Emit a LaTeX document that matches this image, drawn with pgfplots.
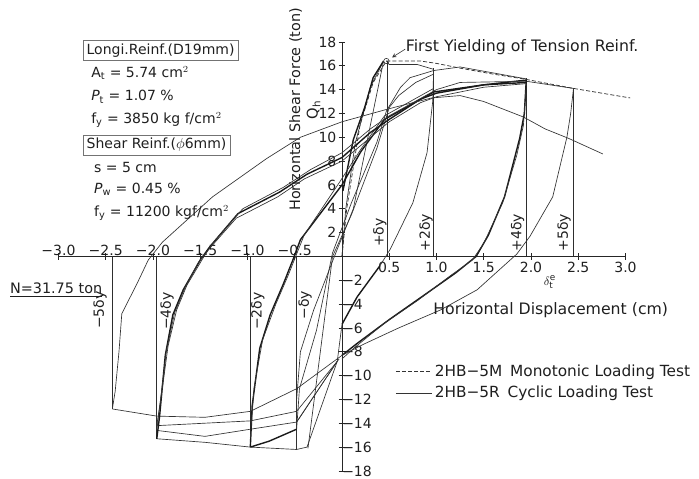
\documentclass[border=0pt]{standalone}
\usepackage{pgfplots}
\pgfplotsset{compat=1.18}
\usepackage{fontspec}
\setmainfont{DejaVu Sans}
\tikzset{
  cyc/.style={black!80, line width=0.5pt},
  cycb/.style={black!90, line width=1.05pt},
  mono/.style={black!80, line width=0.55pt, dash pattern=on 3pt off 1.6pt},
  ref/.style={black!82, line width=0.55pt},
  lbl/.style={text=black!88, font=\fontsize{10.5}{12}\selectfont, inner sep=1pt},
}
\begin{document}
\begin{tikzpicture}
\begin{axis}[
  scale only axis, width=425.25pt, height=321.75pt,
  xmin=-3, xmax=3, ymin=-18, ymax=18,
  axis lines=middle,
  axis line style={black!85, line width=0.6pt, -},
  clip=false,
  xtick={0.5,1,1.5,2,2.5,3},
  xticklabels={0.5,1.0,1.5,2.0,2.5,3.0},
  extra x ticks={-3,-2.5,-2,-1.5,-1,-0.5},
  extra x tick labels={−3.0,−2.5,−2.0,−1.5,−1.0,−0.5},
  extra x tick style={xticklabel style={anchor=south, yshift=1pt}},
  ytick={2,4,6,8,10,12,14,16,18},
  yticklabels={2,4,6,8,10,12,14,16,18},
  extra y ticks={-2,-4,-6,-8,-10,-12,-14,-16,-18},
  extra y tick labels={−2,−4,−6,−8,−10,−12,−14,−16,−18},
  extra y tick style={yticklabel style={anchor=west, xshift=1pt}},
  tick style={black!85, line width=0.5pt},
  major tick length=5pt, tick align=center,
  tick label style={font=\fontsize{10.5}{12}\selectfont, text=black!88, inner sep=1.5pt},
  legend style={at={(axis cs:0.52,-8.6)}, anchor=north west, draw=none, fill=none,
    font=\fontsize{11.5}{13}\selectfont, text=black!88, row sep=2pt},
  legend cell align=left,
  legend image code/.code={\draw[#1] (0cm,0cm) -- (0.95cm,0cm);},
]
% bounding region of the reference image
\coordinate (BL) at (axis cs:-3.619,-18.67);
\coordinate (TR) at (axis cs:3.778,21.52);

% ---------- legend ----------
\addlegendimage{mono}
\addlegendentry{2HB−5M\enspace Monotonic Loading Test}
\addlegendimage{cyc}
\addlegendentry{2HB−5R\enspace Cyclic Loading Test}

% ---------- monotonic test ----------
\addplot[mono, forget plot] coordinates {(0,0) (0.05,4) (0.19,11) (0.33,14.6) (0.47,16.4) (0.75,16.4) (0.83,16.4) (1.0,16.2) (1.25,15.8) (1.6,15.3) (1.92,14.9) (2.45,14.1) (3.05,13.3)};

% ---------- reference lines (+/- n delta y) ----------
\addplot[ref, forget plot] coordinates {(0.48,0) (0.48,16.4)};
\addplot[ref, forget plot] coordinates {(0.97,0) (0.97,15.8)};
\addplot[ref, forget plot] coordinates {(1.95,0) (1.95,15.0)};
\addplot[ref, forget plot] coordinates {(2.45,0) (2.45,14.1)};
\addplot[ref, forget plot] coordinates {(-0.48,0) (-0.48,-16.2)};
\addplot[ref, forget plot] coordinates {(-0.97,0) (-0.97,-16.0)};
\addplot[ref, forget plot] coordinates {(-1.96,0) (-1.96,-15.3)};
\addplot[ref, forget plot] coordinates {(-2.43,0) (-2.43,-12.8)};

% ---------- cyclic test: positive side ----------
\addplot[cyc, forget plot] coordinates {(0,0) (0.04,4) (0.14,9.5) (0.3,14.2) (0.44,16.4)};
\addplot[cycb, forget plot] coordinates {(0.01,5.5) (0.12,9.8) (0.24,12.5) (0.33,15) (0.44,16.4)};
\addplot[cyc, forget plot] coordinates {(0.47,16.4) (0.5,16.1) (0.8,16.1) (0.97,15.7)};
\addplot[cyc, forget plot] coordinates {(0.97,15.6) (1.25,15.9) (1.6,15.4) (1.95,14.9)};
\addplot[cyc, forget plot] coordinates {(1.95,14.7) (2.2,14.4) (2.45,14.1)};
% unloading from +dy to -dy
\addplot[cyc, forget plot] coordinates {(0.44,16.4) (0.3,11) (0.12,4) (-0.1,-0.4) (-0.3,-4.5) (-0.44,-8) (-0.48,-12) (-0.48,-16.2)};
% reloading from -dy to +2dy
\addplot[cyc, forget plot] coordinates {(-0.48,-16.2) (-0.48,-14.5) (-0.45,-11.1) (-0.27,-6.2) (-0.1,0.3) (0.1,4.5) (0.37,9.6) (0.47,12.2) (0.62,14.2) (0.72,15) (0.97,15.6)};
\addplot[cyc, forget plot] coordinates {(-0.36,-16.1) (-0.1,0) (0.1,3.5) (0.37,9.1) (0.5,12.5) (0.6,13.5) (0.78,14.6) (0.97,15.3)};
% unloading from +2dy
\addplot[cyc, forget plot] coordinates {(0.97,15.6) (0.96,13) (0.9,8.7) (0.75,4.5) (0.51,0.6) (0.4,-0.8)};
\addplot[cycb, forget plot] coordinates {(0.4,-0.8) (0.16,-3.4) (0,-5.7)};
\addplot[cyc, forget plot] coordinates {(0,-5.7) (-0.05,-8.8) (-0.48,-13.9)};
% unloading from +4dy (two cycles)
\addplot[cycb, forget plot] coordinates {(1.95,14.8) (1.93,12) (1.88,9.9) (1.72,5) (1.55,1.8) (1.42,0) (1.2,-1.4) (0.86,-3.3) (0.5,-5.3) (0.16,-7.3) (0,-8.3)};
\addplot[cyc, forget plot] coordinates {(1.95,14.5) (1.92,11) (1.85,8.5) (1.7,4.5) (1.5,1.1) (1.38,-0.3) (1.15,-1.6) (0.8,-3.7) (0.45,-5.6) (0.14,-7.6) (0,-8.6)};
% unloading from +5dy
\addplot[cyc, forget plot] coordinates {(2.45,14.1) (2.42,12) (2.38,10) (2.23,5) (1.99,1.7) (1.85,0.2) (1.43,-2.8) (1.04,-4.5) (0.6,-6) (0.22,-7.4) (0,-8.3)};

% ---------- cyclic test: negative side ----------
\addplot[cyc, forget plot] coordinates {(0,-8.3) (-0.48,-11.1) (-0.97,-13.0) (-1.45,-13.5) (-1.96,-13.4) (-2.43,-12.8)};
\addplot[cyc, forget plot] coordinates {(-0.03,-8.6) (-0.48,-13.0) (-0.97,-13.8) (-1.96,-14.2)};
\addplot[cyc, forget plot] coordinates {(-0.05,-8.8) (-0.48,-13.9) (-0.97,-14.5) (-1.45,-15.1) (-1.96,-14.6)};
\addplot[cyc, forget plot] coordinates {(-0.97,-16.0) (-1.45,-15.6) (-1.96,-15.3)};
\addplot[cyc, forget plot] coordinates {(-0.05,-8.8) (-0.37,-16.0) (-0.48,-16.2) (-0.97,-16.0)};
\addplot[cycb, forget plot] coordinates {(-0.48,-14.5) (-0.77,-15.5) (-0.97,-16.0)};
% unloading from -2dy and reloading
\addplot[cycb, forget plot] coordinates {(-0.97,-16.0) (-0.95,-12.5) (-0.87,-7.7) (-0.76,-4.9) (-0.62,-2.3) (-0.52,-0.3) (-0.44,1.4) (0,6) (0.2,8.8) (0.45,11.5) (0.97,13.8) (1.5,14.4) (1.95,14.8)};
\addplot[cyc, forget plot] coordinates {(-0.97,-15.2) (-0.93,-11) (-0.84,-7) (-0.7,-4) (-0.57,-1.6) (-0.48,0.2) (-0.4,1.8) (-0.02,6.3) (0.2,9) (0.45,11.8) (0.97,14.1)};
% unloading from -4dy and reloading (three cycles)
\addplot[cycb, forget plot] coordinates {(-1.96,-15.3) (-1.93,-13.4) (-1.87,-8.3) (-1.79,-4.9) (-1.68,-2.8) (-1.5,-0.3) (-1.4,0.8) (-1.1,3.6) (-0.66,5.4) (-0.37,6.9) (0,8.3) (0.3,10.4) (0.5,11.5) (0.83,13.2) (1.0,13.7) (1.5,14.4) (1.95,14.6)};
\addplot[cyc, forget plot] coordinates {(-1.96,-14.2) (-1.9,-11) (-1.84,-7.5) (-1.75,-4.5) (-1.64,-2.4) (-1.46,0) (-1.35,1.3) (-1.05,4.0) (-0.62,5.8) (-0.33,7.3) (0,8.7) (0.3,10.7) (0.5,11.8) (1.0,14.0) (1.25,14.6) (1.95,14.7)};
\addplot[cyc, forget plot] coordinates {(-1.96,-14.6) (-1.92,-12) (-1.86,-8) (-1.77,-4.7) (-1.66,-2.6) (-1.52,-0.5) (-1.42,0.5) (-1.12,3.2) (-0.68,5.0) (-0.4,6.5) (0,8.0) (0.5,11.3) (0.83,12.9) (1.0,13.4) (1.5,14.2) (1.95,14.5)};
% unloading from -5dy and last reloading
\addplot[cyc, forget plot] coordinates {(-2.43,-12.8) (-2.4,-11.3) (-2.36,-8) (-2.33,-4.8) (-2.17,-2.3) (-2.05,-0.3) (-1.9,1.2) (-1.37,5) (-0.8,8.2) (-0.44,10) (0,11.3) (0.5,12.4) (0.95,13.3) (1.25,13.5) (1.5,13.0) (1.92,11.7) (2.15,10.7) (2.4,9.9) (2.76,8.6)};

% first yielding marker
\addplot[only marks, mark=o, mark size=2pt, black!85, forget plot] coordinates {(0.47,16.4)};

% ---------- annotations ----------
\node[lbl, anchor=west, font=\fontsize{11.8}{13}\selectfont] at (axis cs:0.66,17.6) {First Yielding of Tension Reinf.};
\draw[->, >=stealth, black!80, line width=0.45pt] (axis cs:0.67,17.4) -- (axis cs:0.53,16.7);

\node[lbl, rotate=90, font=\fontsize{10.8}{12}\selectfont] at (axis cs:-0.49,12.35) {Horizontal Shear Force (ton)};
\node[lbl, rotate=90, font=\fontsize{11}{12}\selectfont] at (axis cs:-0.30,12.3) {Q$_\mathrm{h}$};
\node[lbl, anchor=west, font=\fontsize{11.8}{13}\selectfont] at (axis cs:0.95,-4.55) {Horizontal Displacement (cm)};
\node[lbl, font=\fontsize{9.5}{10}\selectfont, inner sep=0pt] at (axis cs:2.2,-2.15) {$\delta^{\mathrm{e}}_{\mathrm{t}}$};

\node[lbl, rotate=90] at (axis cs:0.40,2.0) {+δy};
\node[lbl, rotate=90] at (axis cs:0.89,2.0) {+2δy};
\node[lbl, rotate=90] at (axis cs:1.86,2.0) {+4δy};
\node[lbl, rotate=90] at (axis cs:2.35,2.0) {+5δy};
\node[lbl, rotate=90] at (axis cs:-2.56,-4.5) {−5δy};
\node[lbl, rotate=90] at (axis cs:-1.85,-4.6) {−4δy};
\node[lbl, rotate=90] at (axis cs:-0.89,-4.6) {−2δy};
\node[lbl, rotate=90] at (axis cs:-0.39,-4.1) {−δy};

\node[lbl, anchor=west, font=\fontsize{10.8}{12}\selectfont] at (axis cs:-3.53,-2.8) {\underline{N=31.75 ton}};

\node[lbl, anchor=west, draw=black!55, line width=0.4pt, inner sep=2.5pt] at (axis cs:-2.74,17.3) {Longi.Reinf.(D19mm)};
\node[lbl, anchor=west] at (axis cs:-2.67,15.4) {A$_\mathrm{t}$ = 5.74 cm$^2$};
\node[lbl, anchor=west] at (axis cs:-2.67,13.4) {\textit{P}$_\mathrm{t}$ = 1.07 \%};
\node[lbl, anchor=west] at (axis cs:-2.67,11.45) {f$_\mathrm{y}$ = 3850 kg f/cm$^2$};
\node[lbl, anchor=west, draw=black!55, line width=0.4pt, inner sep=2.5pt] at (axis cs:-2.74,9.35) {Shear Reinf.($\phi$6mm)};
\node[lbl, anchor=west] at (axis cs:-2.64,7.5) {s = 5 cm};
\node[lbl, anchor=west] at (axis cs:-2.64,5.6) {\textit{P}$_\mathrm{w}$ = 0.45 \%};
\node[lbl, anchor=west] at (axis cs:-2.64,3.65) {f$_\mathrm{y}$ = 11200 kgf/cm$^2$};
\end{axis}
\pgfresetboundingbox
\path[use as bounding box] (BL) rectangle (TR);
\end{tikzpicture}
\end{document}
